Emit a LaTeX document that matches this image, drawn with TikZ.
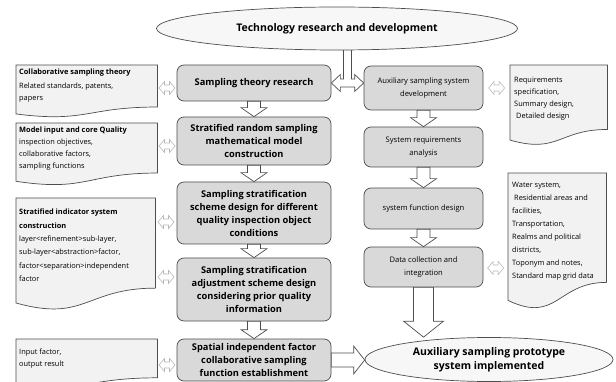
\documentclass[tikz,border=0pt]{standalone}
\usepackage{fontspec}
\setmainfont{Open Sans}
\usetikzlibrary{calc,shapes.geometric,backgrounds}
\definecolor{boxfill}{HTML}{D9D9D9}
\definecolor{notefill}{HTML}{F2F2F2}
\definecolor{edgecol}{HTML}{4D4D4D}
\definecolor{lightarrow}{HTML}{B8B8B8}
\definecolor{ellfill}{HTML}{F7F7F7}
\tikzset{
  mainbox/.style={draw=edgecol, fill=boxfill, rounded corners=7pt, line width=0.7pt,
    align=center, inner sep=0pt, font=\fontsize{9.3}{13}\selectfont\bfseries},
  sidebox/.style={draw=edgecol, fill=boxfill, rounded corners=7pt, line width=0.7pt,
    align=center, inner sep=0pt, font=\fontsize{7.6}{13}\selectfont},
  notenode/.style={draw=none, inner sep=0pt, anchor=north west},
  noteline/.style={draw=edgecol, fill=notefill, line width=0.7pt},
  notetext/.style={inner sep=0pt, anchor=north west, align=left},
  ellnode/.style={ellipse, draw=edgecol, fill=ellfill, line width=0.7pt, inner sep=0pt,
    align=center, font=\fontsize{10.5}{14}\selectfont\bfseries},
  blk/.style={draw=edgecol, fill=white, line width=0.7pt, line join=miter},
  dbl/.style={draw=lightarrow, fill=white, line width=0.6pt, line join=miter}
}
\newcommand{\notebox}[5]{% name, left x, top y, width, height
  \node[notenode, minimum width=#4pt, minimum height=#5pt] (#1) at (#2,#3) {};
  \draw[noteline] (#1.north west) -- (#1.north east)
    -- ($(#1.north east)!0.802!(#1.south east)$)
    .. controls ($(#1.north)!0.802!(#1.south)$) and ($(#1.north)!1.107!(#1.south)$)
    .. ($(#1.north west)!0.934!(#1.south west)$) -- cycle;}
\newcommand{\blkdown}[5]{% from, to, stem half, head half, head length
  \draw[blk] let \p1=(#1.south), \p2=(#2.north) in
    (\x1-#3pt,\y1) -- (\x1+#3pt,\y1) -- (\x1+#3pt,\y2+#5pt) -- (\x1+#4pt,\y2+#5pt)
    -- (\x1,\y2) -- (\x1-#4pt,\y2+#5pt) -- (\x1-#3pt,\y2+#5pt) -- cycle;}
\newcommand{\blkright}[5]{% from, to, stem half, head half, head length
  \draw[blk] let \p1=(#1.east), \p2=(#2.west) in
    (\x1,\y1+#3pt) -- (\x2-#5pt,\y1+#3pt) -- (\x2-#5pt,\y1+#4pt) -- (\x2,\y1)
    -- (\x2-#5pt,\y1-#4pt) -- (\x2-#5pt,\y1-#3pt) -- (\x1,\y1-#3pt) -- cycle;}
\newcommand{\dblh}[3]{% left node, right node, y
  \draw[dbl] let \p1=(#1.east), \p2=(#2.west), \p3=(0,#3), \n1={(\x1+\x2)/2} in
    (\n1-8pt,\y3) -- (\n1-2.5pt,\y3+6.5pt) -- (\n1-2.5pt,\y3+3pt) -- (\n1+2.5pt,\y3+3pt)
    -- (\n1+2.5pt,\y3+6.5pt) -- (\n1+8pt,\y3) -- (\n1+2.5pt,\y3-6.5pt) -- (\n1+2.5pt,\y3-3pt)
    -- (\n1-2.5pt,\y3-3pt) -- (\n1-2.5pt,\y3-6.5pt) -- cycle;}
\begin{document}
\begin{tikzpicture}[x=1pt,y=-1pt]
\useasboundingbox (0,0) rectangle (616,382);

% top ellipse
\node[ellnode, minimum width=361pt, minimum height=43pt] (top) at (337,28.5) {Technology research and development};

% left main boxes
\node[mainbox, minimum width=154pt, minimum height=36pt] (b1) at (254,83) {Sampling theory research};
\node[mainbox, minimum width=154pt, minimum height=48pt] (b2) at (254,141) {Stratified random sampling\\mathematical model\\construction};
\node[mainbox, minimum width=154pt, minimum height=62pt] (b3) at (254,213) {Sampling stratification\\scheme design for different\\quality inspection object\\conditions};
\node[mainbox, minimum width=154pt, minimum height=63pt] (b4) at (254,289.5) {Sampling stratification\\adjustment scheme design\\considering prior quality\\information};
\node[mainbox, minimum width=154pt, minimum height=42pt] (b5) at (254,360) {Spatial independent factor\\collaborative sampling\\function establishment};

% right boxes
\node[sidebox, minimum width=119pt, minimum height=44pt] (ra) at (423.5,88) {Auxiliary sampling system\\development};
\node[sidebox, minimum width=119pt, minimum height=40pt] (rb) at (423.5,147) {System requirements\\analysis};
\node[sidebox, minimum width=119pt, minimum height=41pt] (rc) at (423.5,208.5) {system function design};
\node[sidebox, minimum width=119pt, minimum height=40pt] (rd) at (423.5,267) {Data collection and\\integration};

% bottom ellipse
\node[ellnode, minimum width=248pt, minimum height=44pt] (bot) at (489,359.5) {Auxiliary sampling prototype\\system implemented};

% notes left
\notebox{n1}{16}{65}{141}{52}
\node[notetext, font=\fontsize{7.4}{12}\selectfont] at (19,69) {\textbf{Collaborative sampling theory}\\[2pt]Related standards, patents,\\papers};
\notebox{n2}{16}{123}{141}{62}
\node[notetext, font=\fontsize{7.4}{12}\selectfont] at (19,127) {\textbf{Model input and core Quality}\\inspection objectives,\\collaborative factors,\\sampling functions};
\notebox{n3}{16}{198}{139}{112}
\node[notetext, font=\fontsize{7.4}{13.3}\selectfont] at (19,209) {\textbf{Stratified indicator system}\\\textbf{construction}\\layer<refinement>sub-layer,\\sub-layer<abstraction>factor,\\factor<separation>independent\\factor};
\notebox{n4}{16}{339}{141}{48}
\node[notetext, font=\fontsize{7.4}{12}\selectfont] at (19,349) {Input factor,\\output result};

% notes right
\notebox{n5}{510}{65}{97}{80}
\node[notetext, font=\fontsize{7.4}{12}\selectfont] at (514,77) {Requirements\\specification,\\Summary design,\\\hspace{2pt}Detailed design};
\notebox{n6}{508}{173}{98}{136}
\node[notetext, font=\fontsize{7.4}{13}\selectfont] at (512,182) {Water system,\\\hspace{2pt}Residential areas and\\facilities,\\Transportation,\\Realms and political\\districts,\\Toponym and notes,\\Standard map grid data};

% connectors
\begin{scope}[on background layer]
\draw[blk] let \p1=(b1.east), \p2=(ra.west), \p3=(top.south), \n1={(\x1+\x2)/2} in
  (\x1,\y1) -- (\x1+9pt,\y1+8.5pt) -- (\x1+9pt,\y1+4pt) -- (\n1-4pt,\y1+4pt) -- (\n1-4pt,\y3+4pt)
  -- (\n1+4pt,\y3+4pt) -- (\n1+4pt,\y1+4pt) -- (\x2-9pt,\y1+4pt) -- (\x2-9pt,\y1+8.5pt) -- (\x2,\y1)
  -- (\x2-9pt,\y1-8.5pt) -- (\x2-9pt,\y1-4pt) -- (\x1+9pt,\y1-4pt) -- (\x1+9pt,\y1-8.5pt) -- cycle;
\end{scope}
\blkdown{b1}{b2}{6.5}{13}{9}
\blkdown{b2}{b3}{6.5}{13}{9}
\blkdown{b3}{b4}{6.5}{13}{9}
\blkdown{b4}{b5}{6.5}{13}{9}
\blkdown{ra}{rb}{6.5}{13}{9}
\blkdown{rb}{rc}{6.5}{13}{9}
\blkdown{rc}{rd}{6.5}{13}{9}
\blkdown{rd}{bot}{10}{20}{16}
\blkright{b5}{bot}{7}{14}{11}

\dblh{n1}{b1}{88}
\dblh{n2}{b2}{146}
\dblh{n3}{b3}{222}
\dblh{n3}{b4}{277}
\dblh{n4}{b5}{365}
\dblh{ra}{n5}{88}
\dblh{rd}{n6}{268}
\end{tikzpicture}
\end{document}
